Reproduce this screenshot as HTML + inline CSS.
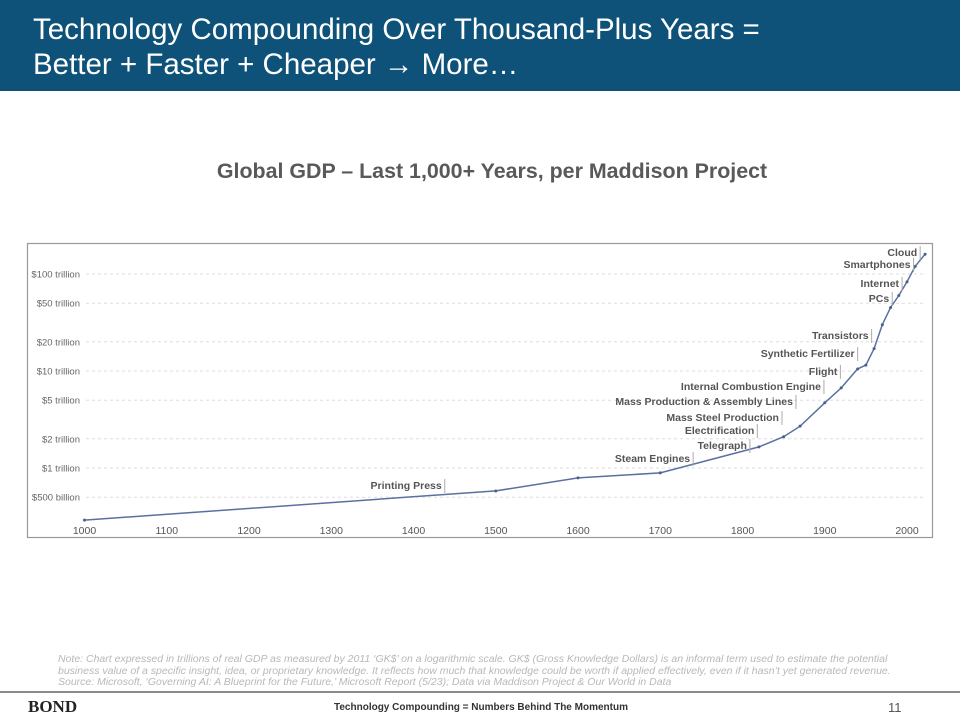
<!DOCTYPE html>
<html><head><meta charset="utf-8"><style>
body{margin:0;width:960px;height:720px;background:#fff;font-family:"Liberation Sans",sans-serif;position:relative;overflow:hidden}
#hdr{position:absolute;left:0;top:0;width:960px;height:91px;background:#0e5279}
#hdr div{position:absolute;left:33px;color:#fff;font-size:29.5px;white-space:nowrap}
#ctitle{position:absolute;left:0;width:984px;top:159px;text-align:center;font-size:21.4px;font-weight:bold;color:#595959}
#note{position:absolute;left:58px;top:654px;width:855px;font-size:10.5px;line-height:11.5px;color:#b8b8b8;font-style:italic}
#rule{position:absolute;left:0;top:691px;width:960px;height:2px;background:#8a8a8a}
#bond{position:absolute;left:28px;top:697px;font-family:"Liberation Serif",serif;font-size:17px;color:#222;font-weight:bold}
#foot{position:absolute;left:334px;top:702px;font-size:10px;font-weight:bold;color:#333}
#pg{position:absolute;left:888px;top:700px;font-size:13px;color:#555}
svg{position:absolute;left:0;top:0}
</style></head><body>
<div id="hdr">
<div style="top:13px">Technology Compounding Over Thousand-Plus Years =</div>
<div style="top:48px">Better + Faster + Cheaper → More…</div>
</div>
<div id="ctitle">Global GDP – Last 1,000+ Years, per Maddison Project</div>
<svg id="chart" width="960" height="720"></svg>
<div id="note">Note: Chart expressed in trillions of real GDP as measured by 2011 ‘GK$’ on a logarithmic scale. GK$ (Gross Knowledge Dollars) is an informal term used to estimate the potential business value of a specific insight, idea, or proprietary knowledge. It reflects how much that knowledge could be worth if applied effectively, even if it hasn’t yet generated revenue. Source: Microsoft, ‘Governing AI: A Blueprint for the Future,’ Microsoft Report (5/23); Data via Maddison Project &amp; Our World in Data</div>
<div id="rule"></div>
<div id="bond">BOND</div>
<div id="foot">Technology Compounding = Numbers Behind The Momentum</div>
<div id="pg">11</div>
<script>
const years=[1000,1500,1600,1700,1820,1850,1870,1900,1920,1940,1950,1960,1970,1980,1990,2000,2010,2022];
const gdpTrillions=[0.29,0.58,0.79,0.89,1.65,2.1,2.7,4.7,6.7,10.5,11.5,17,30,45,60,83,120,160];
const yTickValues=[100,50,20,10,5,2,1,0.5];
const yTickLabels=["$100 trillion","$50 trillion","$20 trillion","$10 trillion","$5 trillion","$2 trillion","$1 trillion","$500 billion"];
const xTickValues=[1000,1100,1200,1300,1400,1500,1600,1700,1800,1900,2000];
const eventLabels=["Printing Press","Steam Engines","Telegraph","Electrification","Mass Steel Production","Mass Production & Assembly Lines","Internal Combustion Engine","Flight","Synthetic Fertilizer","Transistors","PCs","Internet","Smartphones","Cloud"];
const eventYears=[1438,1740,1809,1818,1848,1865,1899,1919,1940,1957,1982,1994,2008,2016];
const eventLevels=[0.593,1.13,1.53,2.19,2.98,4.36,6.22,8.9,13.6,20.9,50.2,71.7,112.6,149.7];

const NS="http://www.w3.org/2000/svg";
const svg=document.getElementById('chart');
const X=y=>84.5+(y-1000)*0.8225;
const Y=v=>371-97*Math.log10(v/10);
function mk(t,a,p){const e=document.createElementNS(NS,t);for(const k in a)e.setAttribute(k,a[k]);(p||svg).appendChild(e);return e;}
const frame=mk('rect',{x:27.5,y:243.5,width:905,height:294,fill:'none',stroke:'#999','stroke-width':1.2});


yTickValues.forEach((v,i)=>{
  const g=mk('line',{x1:86,x2:925,y1:Y(v),y2:Y(v),stroke:'#ddd','stroke-dasharray':'3,3'});
  
  
  const t=mk('text',{x:80,y:Y(v)+3.5,'text-anchor':'end','font-size':9.5,fill:'#666','font-family':'Liberation Sans, sans-serif'});
  t.textContent=yTickLabels[i];
  
  
});
xTickValues.forEach(v=>{
  const t=mk('text',{x:X(v),y:534,'text-anchor':'middle','font-size':10.5,fill:'#555','font-family':'Liberation Sans, sans-serif'});
  t.textContent=v;
  
  
});
const pts=years.map((y,i)=>X(y).toFixed(1)+','+Y(gdpTrillions[i]).toFixed(1)).join(' ');
const line=mk('polyline',{points:pts,fill:'none',stroke:'#5a70a0','stroke-width':1.5});


years.forEach((y,i)=>{
  const c=mk('circle',{cx:X(y),cy:Y(gdpTrillions[i]),r:1.5,fill:'#4a5f90'});
  
  
});
eventLabels.forEach((l,i)=>{
  const x=X(eventYears[i]),y=Y(eventLevels[i]);
  const tk=mk('line',{x1:x,x2:x,y1:y-11,y2:y+3,stroke:'#aaa','stroke-width':1});
  
  
  const t=mk('text',{x:x-3,y:y-1,'text-anchor':'end','font-size':10.5,'font-weight':'bold',fill:'#555','font-family':'Liberation Sans, sans-serif'});
  t.textContent=l;
  
  
});
</script>
</body></html>
